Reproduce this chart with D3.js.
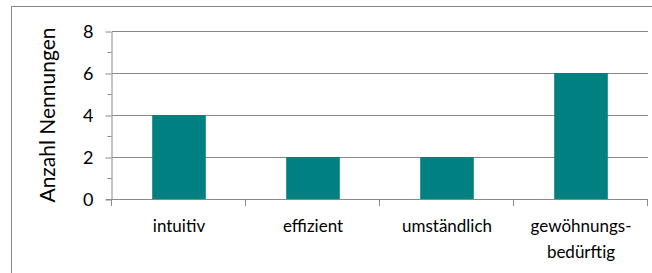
<!DOCTYPE html>
<html>
<head>
<meta charset="utf-8">
<script src="https://cdn.jsdelivr.net/npm/d3@7"></script>
<style>
  body { margin: 0; background: #fff; }
  svg { display: block; font-family: Lato, "Open Sans", sans-serif; }
</style>
</head>
<body>
<svg id="chart" width="652" height="273"></svg>
<script>
// chart data
const categories = ["intuitiv", "effizient", "umständlich", "gewöhnungs-\nbedürftig"];
const counts = [4, 2, 2, 6];
const yTicks = [0, 2, 4, 6, 8];
const yMinorTicks = [1, 3, 5, 7];
const yTitle = "Anzahl Nennungen";

const margin = {top: 31, right: 4, bottom: 74, left: 112};
const width = 652, height = 273;

let svg = d3.select("#chart");

svg.append("rect")
    .attr("width", width).attr("height", height)
    .attr("fill", "#fff");

// outer frame of the chart area (runs off the image at right/bottom)
svg.append("rect")
    .attr("x", 11.5).attr("y", 6.5)
    .attr("width", 700).attr("height", 300)
    .attr("fill", "none")
    .attr("stroke", "#8a8a8a");

let x = d3.scaleBand()
    .domain(categories)
    .range([margin.left, width - margin.right])
    .paddingInner(0.6)
    .paddingOuter(0.3);

let y = d3.scaleLinear()
    .domain([0, 8])
    .range([height - margin.bottom, margin.top]);

// gridlines
svg.append("g")
    .selectAll("line")
    .data(yTicks.slice(1))
    .enter().append("line")
    .attr("x1", margin.left).attr("x2", width - margin.right)
    .attr("y1", d => Math.round(y(d)) + 0.5)
    .attr("y2", d => Math.round(y(d)) + 0.5)
    .attr("stroke", "#8a8a8a");

// bars
svg.append("g")
    .selectAll("rect")
    .data(counts)
    .enter().append("rect")
    .attr("x", (d, i) => x(categories[i]))
    .attr("y", d => y(d))
    .attr("width", x.bandwidth())
    .attr("height", d => y(0) - y(d))
    .attr("fill", "#008080");

// y axis
let yAxis = svg.append("g")
    .attr("transform", "translate(" + (margin.left - 0.5) + ",0.5)")
    .call(d3.axisLeft(y).tickValues(yTicks).tickSize(6).tickPadding(12).tickSizeOuter(0));
yAxis.selectAll("text").attr("font-size", 18).attr("fill", "#000").attr("font-family", "Lato");
yAxis.selectAll("line, path").attr("stroke", "#8a8a8a");

svg.append("g")
    .attr("transform", "translate(" + (margin.left - 0.5) + ",0.5)")
    .selectAll("line")
    .data(yMinorTicks)
    .enter().append("line")
    .attr("x1", -4).attr("x2", 0)
    .attr("y1", d => Math.round(y(d)))
    .attr("y2", d => Math.round(y(d)))
    .attr("stroke", "#8a8a8a");

// x axis with ticks at band boundaries
let bounds = d3.range(categories.length + 1).map(i => margin.left + i * (width - margin.right - margin.left) / categories.length);
let xg = svg.append("g");
xg.append("line")
    .attr("x1", margin.left - 6).attr("x2", width - margin.right)
    .attr("y1", Math.round(y(0)) + 0.5).attr("y2", Math.round(y(0)) + 0.5)
    .attr("stroke", "#8a8a8a");
xg.selectAll(".tk")
    .data(bounds)
    .enter().append("line")
    .attr("class", "tk")
    .attr("x1", d => Math.round(d) - 0.5).attr("x2", d => Math.round(d) - 0.5)
    .attr("y1", Math.round(y(0))).attr("y2", Math.round(y(0)) + 7)
    .attr("stroke", "#8a8a8a");

// category labels
let labels = svg.append("g")
    .selectAll("text")
    .data(categories)
    .enter().append("text")
    .attr("text-anchor", "middle")
    .attr("font-size", 17)
    .attr("fill", "#000")
    .attr("transform", d => "translate(" + (x(d) + x.bandwidth() / 2) + "," + 232 + ")");
labels.selectAll("tspan")
    .data(d => d.split("\n"))
    .enter().append("tspan")
    .attr("x", 0)
    .attr("y", (d, i) => i * 26)
    .text(d => d);

// y axis title
svg.append("text")
    .attr("transform", "translate(55," + (y(4)) + ") rotate(-90)")
    .attr("text-anchor", "middle")
    .attr("font-size", 21)
    .attr("fill", "#000")
    .text(yTitle);
</script>
</body>
</html>
